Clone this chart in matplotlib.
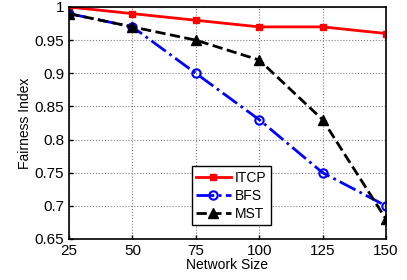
import matplotlib
matplotlib.use('Agg')
import matplotlib.pyplot as plt

# --- Data ---
network_size = [25, 50, 75, 100, 125, 150]
itcp = [1.00, 0.99, 0.98, 0.97, 0.97, 0.96]
bfs = [0.99, 0.97, 0.90, 0.83, 0.75, 0.70]
mst = [0.99, 0.97, 0.95, 0.92, 0.83, 0.68]

plt.rcParams['font.family'] = ['Liberation Sans', 'DejaVu Sans']

fig = plt.figure(figsize=(4.07, 2.8), dpi=100)
ax = fig.add_axes([69 / 407, 41 / 280, 317 / 407, 232 / 280])

ax.plot(network_size, itcp, '-', color='red', marker='s', markersize=5, linewidth=2, label='ITCP')
ax.plot(network_size, bfs, '-.', color='blue', marker='o', markersize=6, markerfacecolor='none',
        markeredgewidth=1.5, linewidth=2, label='BFS')
ax.plot(network_size, mst, '--', color='black', marker='^', markersize=7, linewidth=2, label='MST')

ax.set_xlim(25, 150)
ax.set_ylim(0.65, 1.0)
ax.set_xticks(network_size)
ax.set_yticks([0.65, 0.7, 0.75, 0.8, 0.85, 0.9, 0.95, 1.0])
ax.set_yticklabels(['0.65', '0.7', '0.75', '0.8', '0.85', '0.9', '0.95', '1'])
ax.tick_params(labelsize=11, direction='in', length=3, width=1)
ax.grid(True, linestyle=':', color='gray', linewidth=0.8)
for s in ax.spines.values():
    s.set_linewidth(1.2)

ax.set_xlabel('Network Size', fontsize=10, labelpad=0)
ax.set_ylabel('Fairness Index', fontsize=10, labelpad=2)

leg = ax.legend(loc='lower left', bbox_to_anchor=(0.366, 0.03), fontsize=10, fancybox=False,
                edgecolor='black', framealpha=1, handlelength=2.5, borderpad=0.3, labelspacing=0.3,
                handletextpad=0.3)
leg.get_frame().set_linewidth(1)

fig.savefig('out.png', dpi=100)
